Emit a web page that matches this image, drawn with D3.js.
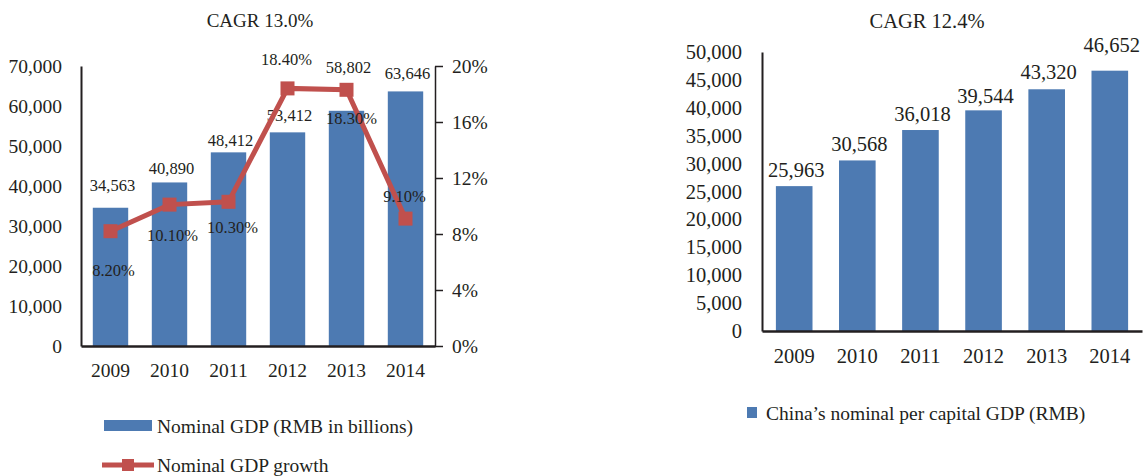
<!DOCTYPE html>
<html>
<head>
<meta charset="utf-8">
<script src="https://cdn.jsdelivr.net/npm/d3@7"></script>
<style>
	body { margin: 0; background: #fff; }
	svg text { font-family: "Liberation Serif", "Times New Roman", serif; fill: #231f20; }
</style>
</head>
<body>
<svg id="chart" width="1145" height="476"></svg>
<script>
// ---- data ----
var years = ["2009", "2010", "2011", "2012", "2013", "2014"];
var nominalGdp = [34563, 40890, 48412, 53412, 58802, 63646];
var gdpGrowth = [8.2, 10.1, 10.3, 18.4, 18.3, 9.1];
var perCapitaGdp = [25963, 30568, 36018, 39544, 43320, 46652];
var leftTicks = [0, 10000, 20000, 30000, 40000, 50000, 60000, 70000];
var rightPctTicks = [0, 4, 8, 12, 16, 20];
var perCapitaTicks = [0, 5000, 10000, 15000, 20000, 25000, 30000, 35000, 40000, 45000, 50000];
var leftTitle = "CAGR 13.0%";
var rightTitle = "CAGR 12.4%";
var legendBars = "Nominal GDP (RMB in billions)";
var legendLine = "Nominal GDP growth";
var legendPerCapita = "China\u2019s nominal per capital GDP (RMB)";

// label nudges (layout only), as in the source figure
var gdpLabelDy = [-23, -14, -12, -17, -44, -18];
var growthLabelDy = [39, 31, 25, -29, 28, -22];
var growthLabelDx = [3, 3, 4, -1, 5, -1];
var perCapitaLabelDy = [-16, -17, -16, -15, -17, -26];

var BLUE = "#4d7ab2";
var RED = "#c0504d";
var INK = "#231f20";
var SERIF = "'Liberation Serif', 'Times New Roman', serif";

var fmt = d3.format(",");
var svg = d3.select("#chart");

/**
 * strips d3's default axis font and restyles tick text.
 */
function styleAxis(a, size)
{
	a.attr("font-family", null).attr("font-size", null);
	a.selectAll("text")
		.attr("font-family", SERIF)
		.style("font-family", SERIF)
		.style("font-size", size)
		.attr("fill", INK);
	a.selectAll(".tick line").attr("stroke", INK).attr("stroke-width", 1.5);
}

/**
 * left chart: bars + growth line on a second axis
 */
function drawLeft()
{
	var x = d3.scaleBand().domain(years).range([81, 435]).paddingInner(0.4).paddingOuter(0.2);
	var y = d3.scaleLinear().domain([0, 70000]).range([346, 66]);
	var y2 = d3.scaleLinear().domain([0, 20]).range([346, 66]);
	var g = svg.append("g");

	g.append("text").attr("x", 260).attr("y", 20).attr("dy", "0.35em")
		.attr("text-anchor", "middle").style("font-size", "19px").text(leftTitle);

	g.selectAll(".bar").data(nominalGdp).enter().append("rect")
		.attr("class", "bar")
		.attr("x", function(d, i) { return x(years[i]); })
		.attr("y", function(d) { return y(d); })
		.attr("width", x.bandwidth())
		.attr("height", function(d) { return y(0) - y(d); })
		.style("fill", BLUE);

	var yAxis = g.append("g").attr("transform", "translate(81,0)")
		.call(d3.axisLeft(y).tickValues(leftTicks).tickFormat(fmt).tickSize(0).tickPadding(19));
	var y2Axis = g.append("g").attr("transform", "translate(435,0)")
		.call(d3.axisRight(y2).tickValues(rightPctTicks).tickFormat(function(d) { return d + "%"; })
			.tickSizeInner(8).tickSizeOuter(0).tickPadding(9));
	var xAxis = g.append("g").attr("transform", "translate(0,346)")
		.call(d3.axisBottom(x).tickSize(0).tickPadding(17));

	[yAxis, y2Axis, xAxis].forEach(function(a) { styleAxis(a, "19.5px"); });
	yAxis.select(".domain").attr("stroke", INK).attr("stroke-width", 2);
	y2Axis.select(".domain").attr("stroke", INK).attr("stroke-width", 1.5);
	xAxis.select(".domain").attr("stroke", INK).attr("stroke-width", 2.5);

	g.selectAll(".barLabel").data(nominalGdp).enter().append("text")
		.attr("x", function(d, i) { return x(years[i]) + x.bandwidth() / 2 + 2; })
		.attr("y", function(d, i) { return y(d) + gdpLabelDy[i]; })
		.attr("dy", "0.35em").attr("text-anchor", "middle")
		.style("font-size", "16.5px").text(fmt);

	var cx = function(d, i) { return x(years[i]) + x.bandwidth() / 2; };
	var line = d3.line().x(cx).y(function(d) { return y2(d); });

	g.append("path").datum(gdpGrowth).attr("d", line)
		.attr("fill", "none").attr("stroke", RED).attr("stroke-width", 5);

	g.selectAll(".marker").data(gdpGrowth).enter().append("rect")
		.attr("x", function(d, i) { return cx(d, i) - 7; })
		.attr("y", function(d) { return y2(d) - 7; })
		.attr("width", 14).attr("height", 14)
		.style("fill", RED);

	g.selectAll(".lineLabel").data(gdpGrowth).enter().append("text")
		.attr("x", function(d, i) { return cx(d, i) + growthLabelDx[i]; })
		.attr("y", function(d, i) { return y2(d) + growthLabelDy[i]; })
		.attr("dy", "0.35em").attr("text-anchor", "middle")
		.style("font-size", "16.5px").text(function(d) { return d.toFixed(2) + "%"; });

	// legend
	g.append("rect").attr("x", 104).attr("y", 420).attr("width", 48).attr("height", 11).style("fill", BLUE);
	g.append("text").attr("x", 157).attr("y", 426).attr("dy", "0.35em").style("font-size", "19.5px").text(legendBars);
	g.append("line").attr("x1", 102).attr("x2", 154).attr("y1", 465).attr("y2", 465)
		.attr("stroke", RED).attr("stroke-width", 5);
	g.append("rect").attr("x", 122).attr("y", 459).attr("width", 12).attr("height", 12).style("fill", RED);
	g.append("text").attr("x", 157).attr("y", 465).attr("dy", "0.35em").style("font-size", "19.5px").text(legendLine);
}

/**
 * right chart: per capita GDP bars
 */
function drawRight()
{
	var x = d3.scaleBand().domain(years).range([762, 1142]).paddingInner(0.42).paddingOuter(0.22);
	var y = d3.scaleLinear().domain([0, 50000]).range([331, 52]);
	var g = svg.append("g");

	g.append("text").attr("x", 927).attr("y", 21).attr("dy", "0.35em")
		.attr("text-anchor", "middle").style("font-size", "20.5px").text(rightTitle);

	g.selectAll(".bar").data(perCapitaGdp).enter().append("rect")
		.attr("x", function(d, i) { return x(years[i]); })
		.attr("y", function(d) { return y(d); })
		.attr("width", x.bandwidth())
		.attr("height", function(d) { return y(0) - y(d); })
		.style("fill", BLUE);

	var yAxis = g.append("g").attr("transform", "translate(762,0)")
		.call(d3.axisLeft(y).tickValues(perCapitaTicks).tickFormat(fmt).tickSize(0).tickPadding(20));
	var xAxis = g.append("g").attr("transform", "translate(0,331)")
		.call(d3.axisBottom(x).tickSize(0).tickPadding(17));

	[yAxis, xAxis].forEach(function(a) { styleAxis(a, "20.5px"); });
	yAxis.select(".domain").attr("stroke", INK).attr("stroke-width", 2);
	xAxis.select(".domain").attr("stroke", INK).attr("stroke-width", 2.5);

	g.selectAll(".barLabel").data(perCapitaGdp).enter().append("text")
		.attr("x", function(d, i) { return x(years[i]) + x.bandwidth() / 2 + 2; })
		.attr("y", function(d, i) { return y(d) + perCapitaLabelDy[i]; })
		.attr("dy", "0.35em").attr("text-anchor", "middle")
		.style("font-size", "20.5px").text(fmt);

	g.append("rect").attr("x", 747).attr("y", 407).attr("width", 10).attr("height", 11).style("fill", BLUE);
	g.append("text").attr("x", 766).attr("y", 413).attr("dy", "0.35em").style("font-size", "19.5px").text(legendPerCapita);
}

drawLeft();
drawRight();
</script>
</body>
</html>
